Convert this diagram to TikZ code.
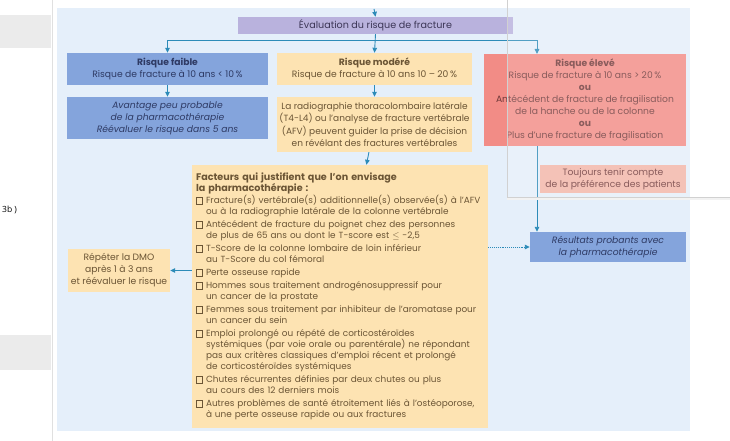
\documentclass[tikz,border=0pt]{standalone}
\usepackage{fontspec}
\setmainfont{Poppins}
\newfontfamily\pagefont{Open Sans}
\usepackage{xcolor}
\usepackage{tikz}
\usetikzlibrary{positioning,calc,arrows.meta}

\definecolor{bgblue}{HTML}{E5EFFA}
\definecolor{evalpurple}{HTML}{B9B2DD}
\definecolor{lowblue}{HTML}{84A4DC}
\definecolor{midorange}{HTML}{FDE3B2}
\definecolor{highred}{HTML}{F28C86}
\definecolor{softred}{HTML}{F2B5A8}
\definecolor{arrblue}{HTML}{2C8BB8}
\definecolor{lowtxt}{HTML}{2E3A64}
\definecolor{midtxt}{HTML}{6B5535}
\definecolor{hightxt}{HTML}{703838}
\definecolor{evaltxt}{HTML}{3C3656}

\newcommand{\boxfont}{\fontsize{9.2}{12}\selectfont}
\newcommand{\cbox}{\makebox[10pt][l]{\fboxsep=0pt\fboxrule=0.9pt\fbox{\rule{0pt}{5.5pt}\hspace{5.5pt}}}}
\newcommand{\ind}{\hspace*{10pt}}

\begin{document}
\begin{tikzpicture}[
    x=1pt, y=-1pt,
    font=\boxfont,
    box/.style={align=center, inner sep=0pt},
    low/.style={box, fill=lowblue, text=lowtxt},
    mid/.style={box, fill=midorange, text=midtxt},
    high/.style={box, fill=highred, text=hightxt},
    arr/.style={-{Triangle[length=5pt,width=4.5pt]}, draw=arrblue, line width=0.9pt},
    dotarr/.style={arr, densely dotted}
  ]
  \useasboundingbox (0,0) rectangle (730,441);
  % page around the figure
  \fill[white] (0,0) rectangle (730,441);
  \fill[black!8] (0,15) rectangle (51,48);
  \fill[black!8] (0,335) rectangle (51,370);
  \draw[black!12] (52,0) -- (52,441);
  \node[anchor=west, inner sep=0pt, font=\pagefont\fontsize{8.5}{10}\selectfont] (side) at (2,210) {3b )};
  \fill[bgblue] (57,8) rectangle (690,431);
  % top: evaluation and the three risk levels
  \node[box, fill=evalpurple, text=evaltxt, minimum width=275pt, minimum height=17pt, font=\fontsize{9.6}{12}\selectfont] (eval) at (375.5,25.5) {Évaluation du risque de fracture};
  \node[low, minimum width=201pt, minimum height=32pt] (faible) at (167.5,69) {\textbf{Risque faible}\\Risque de fracture à 10 ans < 10\,\%};
  \node[low, minimum width=201pt, minimum height=42pt, font=\boxfont\itshape] (avantage) at (167.5,118) {Avantage peu probable\\de la pharmacothérapie\\Réévaluer le risque dans 5 ans};
  \node[mid, minimum width=195pt, minimum height=32pt] (modere) at (374.5,69) {\textbf{Risque modéré}\\Risque de fracture à 10 ans 10 – 20\,\%};
  \node[mid, minimum width=195pt, minimum height=55pt, font=\fontsize{9}{12.5}\selectfont] (radio) at (374.5,124.5) {La radiographie thoracolombaire latérale\\(T4-L4) ou l'analyse de fracture vertébrale\\(AFV) peuvent guider la prise de décision\\en révélant des fractures vertébrales};
  \node[high, minimum width=202pt, minimum height=92pt] (eleve) at (585,100) {\textbf{Risque élevé}\\Risque de fracture à 10 ans > 20\,\%\\\textbf{ou}\\Antécédent de fracture de fragilisation\\de la hanche ou de la colonne\\\textbf{ou}\\Plus d'une fracture de fragilisation};
  \node[box, fill=softred, text=hightxt, minimum width=146pt, minimum height=28pt] (toujours) at (613,179) {Toujours tenir compte\\de la préférence des patients};
  % middle and bottom
  \node[mid, text width=288pt, inner xsep=4pt, minimum height=263pt, align=left, font=\fontsize{8.9}{11}\selectfont] (facteurs) at (340,296.5) {%
    {\fontsize{9.6}{12.5}\selectfont\textbf{Facteurs qui justifient que l'on envisage}\\
    \textbf{la pharmacothérapie :}}\\[1pt]
    \cbox Fracture(s) vertébrale(s) additionnelle(s) observée(s) à l'AFV\\
    \ind ou à la radiographie latérale de la colonne vertébrale\\[2pt]
    \cbox Antécédent de fracture du poignet chez des personnes\\
    \ind de plus de 65 ans ou dont le T-score est $\leq$ -2,5\\[2pt]
    \cbox T-Score de la colonne lombaire de loin inférieur\\
    \ind au T-Score du col fémoral\\[2pt]
    \cbox Perte osseuse rapide\\[2pt]
    \cbox Hommes sous traitement androgénosuppressif pour\\
    \ind un cancer de la prostate\\[2pt]
    \cbox Femmes sous traitement par inhibiteur de l'aromatase pour\\
    \ind un cancer du sein\\[2pt]
    \cbox Emploi prolongé ou répété de corticostéroïdes\\
    \ind systémiques (par voie orale ou parentérale) ne répondant\\
    \ind pas aux critères classiques d'emploi récent et prolongé\\
    \ind de corticostéroïdes systémiques\\[2pt]
    \cbox Chutes récurrentes définies par deux chutes ou plus\\
    \ind au cours des 12 derniers mois\\[2pt]
    \cbox Autres problèmes de santé étroitement liés à l'ostéoporose,\\
    \ind à une perte osseuse rapide ou aux fractures};
  \node[mid, minimum width=102pt, minimum height=43pt] (repeter) at (119,270.5) {Répéter la DMO\\après 1 à 3 ans\\et réévaluer le risque};
  \node[low, minimum width=156pt, minimum height=30pt, font=\boxfont\itshape] (resultats) at (608,247) {Résultats probants avec\\la pharmacothérapie};
  % connectors
  \coordinate (entry) at (374,9);
  \coordinate (split) at (374,40);
  \coordinate (highin) at (537,54);
  \draw[arr] (entry) -- (eval.north);
  \draw[arr] (eval.south) -- (modere.north);
  \draw[arr] (split) -| (faible.north);
  \draw[arr] (split) -| (highin);
  \draw[arr] (faible) -- (avantage);
  \draw[arr] (modere) -- (radio);
  \draw[arr] (radio) -- (facteurs);
  \draw[arr] (eleve.south -| highin) -- (resultats.north -| highin);
  \draw[arr] (facteurs.west |- repeter.east) -- (repeter.east);
  \draw[dotarr] (facteurs.east |- resultats.west) -- (resultats.west);
  % popup laid over the page
  \fill[white, opacity=0.18] (507,-1) rectangle (731,197);
  \fill[black!5] (507,197) rectangle (731,200);
  \draw[black!18] (507,-1) -- (507,197) -- (731,197);
\end{tikzpicture}
\end{document}
